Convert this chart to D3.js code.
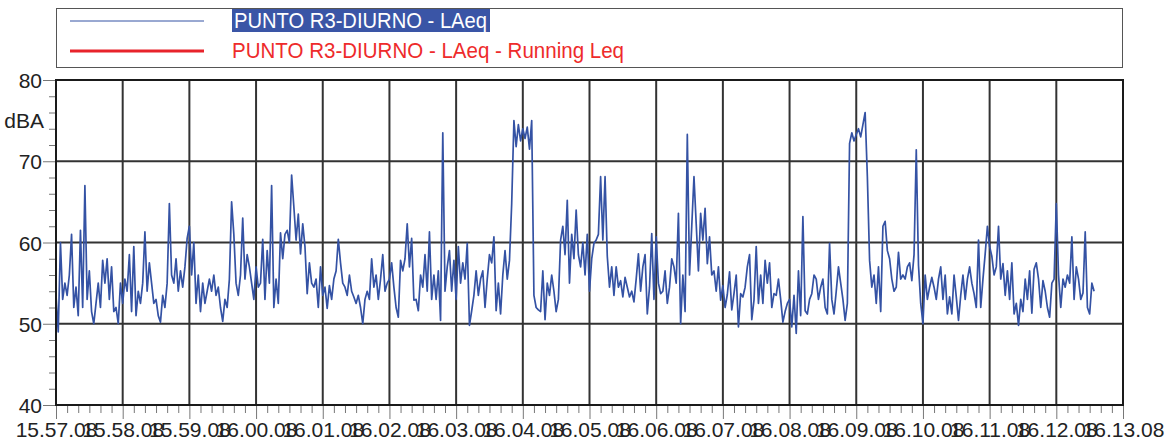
<!DOCTYPE html>
<html>
<head>
<meta charset="utf-8">
<script src="https://cdn.jsdelivr.net/npm/d3@7"></script>
<style>
  body { margin: 0; background: #fff; }
  svg { display: block; font-family: "Liberation Sans", Arial, Helvetica, sans-serif; }
</style>
</head>
<body>
<svg id="chart"></svg>
<script>
// LAeq samples, one every 2 s starting at 15.57.08
const laeqPart1 = [53.5,49,60,53,55,53.5,56,61,52,54.5, 51,61.5,52,67,53,56.5,51.5,50,52.5,55,
  52,57.8,55,58,53,57,51.5,52,50,55, 52.5,55.5,54,58.5,51.5,59.5,51,54,52.5,55,
  61.3,54,57.5,55,52.5,53,51,50.2,53.5,52, 55,64.8,56,55,58,54,56.5,54.5,57,60.5,
  62,56,60,52.5,56,51.5,55,52.5,54,55.5, 54,56,53.5,54.5,52,50.3,53,52,55.5,65];
const laeqPart2 = [61,55,53.5,56,63,55.5,58.5,57,55,53, 57,54.5,55,60.4,53,59,55,67,52,55.5,
  52.5,61.2,58,61,61.5,60,68.3,64.4,60.3,63.5, 58.6,62.3,59.5,53.7,57.5,55,54.5,55.5,52,57,
  53.5,54.5,51.9,54.7,53,55.5,56.5,60.4,57.5,55, 54.5,53.5,56,54,53.3,52.5,53.5,52,50,53,
  54,53,58,54.5,56,53,55.5,58.5,54,55, 55.5,57.5,54.5,52,50.8,57.8,56.5,58,62.3,57];
const laeqPart3 = [60.5,52.9,53,51.6,56,54.5,58.5,54,61.3,53, 56,53,56.5,50.4,73.5,54,57,59,54,57.8,
  53,59.5,55,57.5,55.5,59.9,49.8,51.6,53.5,56.5, 53.5,55.5,56.5,52,55.5,58.5,57.5,60.7,51.6,55,
  51.2,56,59,55.5,57.8,64.8,75,71.8,74.5,72.5, 74,72.8,74.2,71.5,75,53.5,52,51.7,51.5,56.5,
  50.5,55,53.5,56,54,51.5,53,60.3,62,58.5, 65.2,55,61,58,64,58.5,57,60];
const laeqPart4 = [56,61,54,58,59.9,60.3,61,68.1,60.3,68.1, 58.3,54.5,57,53.5,57,54.5,55.3,53.3,55.7,54.5,
  53.3,54,52.7,55.5,58.6,54,57,58.5,51.2,54.5, 61.1,53,60.7,55,53.7,54,56.5,52.5,54.5,58,
  57,55,63.6,50,56,51.5,73.3,56,62,68.1, 62.3,56.5,63.6,60.3,64.2,57.4,60.7,56,56.5,54,
  57,52.9,54.7,52,53.6,56.4,51.7,53.7,56,49.6, 53.7,53.3,54.5,57,58.5,50.5,52.9,59.5,52.5];
const laeqPart5 = [56,52.5,57.8,55,57.5,52,53.7,53.5,55.5,53, 50.2,51.5,52.5,53,49.6,53.5,48.8,56.5,51,63.2,
  51.6,51.2,53,53.7,56,55.5,53,54.5,55.5,52, 51.2,59.9,53,51.2,54,57,55,53,50.4,52.5,
  72.2,73.5,72.5,73.3,74,73,74.5,76,68.1,57.8, 54.5,56,52.5,57,51.5,62,62.6,59,58,55.5,
  54,54.5,58.8,55.5,56,55.5,57,57.5,55.3,58.5, 71.4,57.2,52.5,50,56,53,54.5,55.7,54.5];
const laeqPart6 = [53,55.5,57,53,56,51.2,53.3,51.2,56,53.3, 50.4,53.5,56,53,55.5,57,55,53.7,52,60.3,
  52,55.5,58.6,62,59.5,58.3,56,57,62,55.5, 57.4,53.5,56.5,53,57.5,51.2,52.5,49.8,53,51.5,
  55.5,53,56.5,51.3,56.7,57.5,55.5,52,55.3,54, 52,50.8,55,55.5,64.8,56,52,55.5,54.5,56,
  55,60.7,53,57,55.5,53,53.8,61.3,52,51.2, 55,54];

const startLabel = "15.57.08";
const stepSeconds = 2;
const xTickLabels = ["15.57.08","15.58.08","15.59.08","16.00.08","16.01.08","16.02.08","16.03.08",
  "16.04.08","16.05.08","16.06.08","16.07.08","16.08.08","16.09.08","16.10.08","16.11.08","16.12.08","16.13.08"];
const yTicks = [40, 50, 60, 70, 80];
const yUnit = "dBA";
const legendLabels = ["PUNTO R3-DIURNO - LAeq", "PUNTO R3-DIURNO - LAeq - Running Leq"];
const legendColors = ["#3452a4", "#e8232b"];

const laeq = [].concat(laeqPart1, laeqPart2, laeqPart3, laeqPart4, laeqPart5, laeqPart6);

const width = 1176;
const height = 439;
const margin = { top: 80, right: 53, bottom: 34, left: 56 };
const innerWidth = width - margin.left - margin.right;
const innerHeight = height - margin.top - margin.bottom;

const parseT = d3.timeParse("%H.%M.%S");
const t0 = parseT(startLabel);
const majorTimes = xTickLabels.map(parseT);
const minorTimes = d3.range(0, 16 * 60 + 1, 10)
  .filter(s => s % 60 !== 0)
  .map(s => d3.timeSecond.offset(t0, s));

const svg = d3.select('#chart')
  .attr('width', width)
  .attr('height', height);

const x = d3.scaleTime()
  .domain(d3.extent(majorTimes))
  .range([0, innerWidth]);

const y = d3.scaleLinear()
  .domain([40, 80])
  .range([innerHeight, 0]);

const g = svg.append('g')
  .attr('transform', `translate(${margin.left}, ${margin.top})`);

// grid
g.append('g').selectAll('line')
  .data(yTicks.slice(1, -1)).enter()
  .append('line')
    .attr('x1', 0).attr('x2', innerWidth)
    .attr('y1', d => y(d)).attr('y2', d => y(d))
    .attr('stroke', '#333').attr('stroke-width', 2);

g.append('g').selectAll('line')
  .data(majorTimes.slice(1, -1)).enter()
  .append('line')
    .attr('x1', d => x(d)).attr('x2', d => x(d))
    .attr('y1', 0).attr('y2', innerHeight)
    .attr('stroke', '#333').attr('stroke-width', 2);

// axes
const styleAxis = sel => {
  sel.select('.domain').remove();
  sel.selectAll('line').attr('stroke', '#777');
  sel.selectAll('text')
    .attr('fill', '#222')
    .style('font-size', '21px')
    .style('font-family', '"Liberation Sans", Arial, sans-serif');
};

g.append('g')
  .call(d3.axisLeft(y).tickValues(yTicks).tickSize(13).tickPadding(1))
  .call(styleAxis)
  .selectAll('text').attr('dy', '0.36em');

g.append('g')
  .call(d3.axisLeft(y).tickValues(d3.range(42, 80, 2).filter(v => v % 10 !== 0)).tickSize(7).tickFormat(''))
  .call(styleAxis);

g.append('g')
  .attr('transform', `translate(0, ${innerHeight})`)
  .call(d3.axisBottom(x).tickValues(majorTimes).tickSize(14).tickPadding(3)
    .tickFormat(d3.timeFormat("%H.%M.%S")))
  .call(styleAxis);

g.append('g')
  .attr('transform', `translate(0, ${innerHeight})`)
  .call(d3.axisBottom(x).tickValues(minorTimes).tickSize(8).tickFormat(''))
  .call(styleAxis);

svg.append('text')
  .attr('x', 44)
  .attr('y', 128)
  .attr('text-anchor', 'end')
  .attr('fill', '#222')
  .style('font-size', '21px')
  .text(yUnit);

// series
const line = d3.line()
  .x((d, i) => x(d3.timeSecond.offset(t0, i * stepSeconds)))
  .y(d => y(d));

g.append('path')
  .datum(laeq)
  .attr('fill', 'none')
  .attr('stroke', legendColors[0])
  .attr('stroke-width', 1.7)
  .attr('stroke-linejoin', 'round')
  .attr('d', line);

// frame
g.append('rect')
  .attr('width', innerWidth)
  .attr('height', innerHeight)
  .attr('fill', 'none')
  .attr('stroke', '#1a1a1a')
  .attr('stroke-width', 2);

// legend
const legend = svg.append('g').attr('class', 'legend');

legend.append('rect')
  .attr('x', margin.left + 0.5)
  .attr('y', 8.5)
  .attr('width', innerWidth - 1)
  .attr('height', 59)
  .attr('fill', 'none')
  .attr('stroke', '#555');

legend.append('rect')
  .attr('x', 232)
  .attr('y', 9)
  .attr('width', 258)
  .attr('height', 23)
  .attr('fill', '#3a55a6');

const legendRows = legend.selectAll('g.row')
  .data(legendLabels).enter()
  .append('g')
    .attr('class', 'row')
    .attr('transform', (d, i) => `translate(0, ${21 + i * 30})`);

legendRows.append('line')
  .attr('x1', 70).attr('x2', 204)
  .attr('stroke', (d, i) => legendColors[i])
  .attr('stroke-width', (d, i) => i === 0 ? 1 : 3);

legendRows.append('text')
  .attr('x', (d, i) => i === 0 ? 234 : 232)
  .attr('y', 7)
  .attr('fill', (d, i) => i === 0 ? '#fff' : '#ee2b2b')
  .attr('textLength', (d, i) => i === 0 ? 253 : 392)
  .attr('lengthAdjust', 'spacingAndGlyphs')
  .style('font-size', '22px')
  .text(d => d);
</script>
</body>
</html>
